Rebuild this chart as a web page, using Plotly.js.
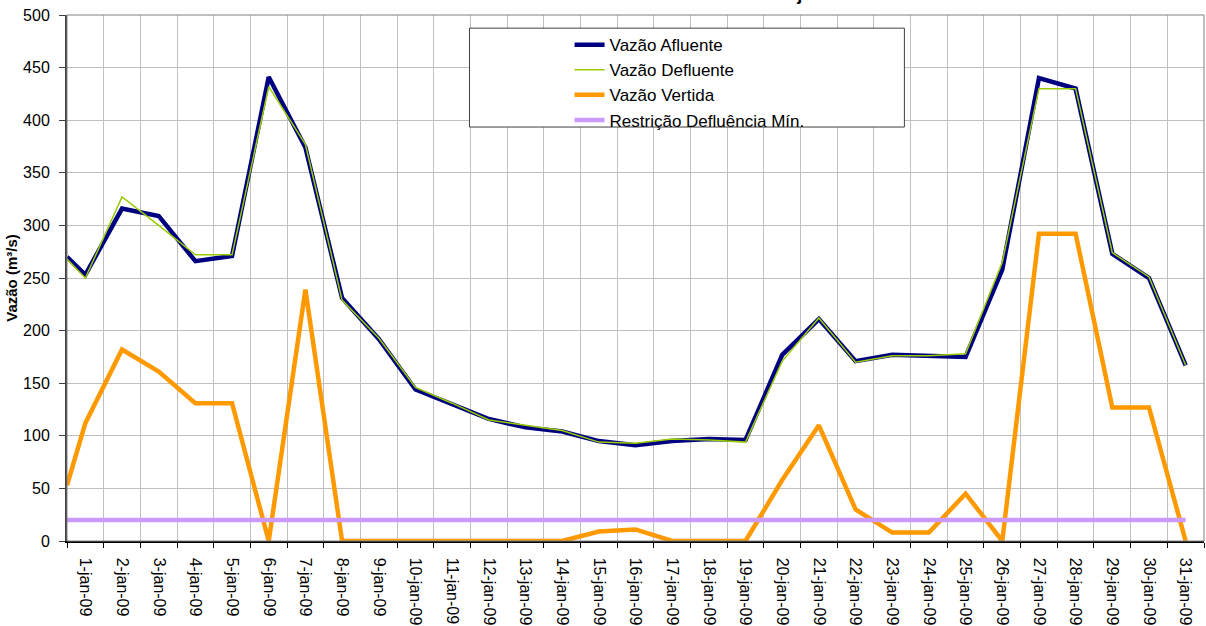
<!DOCTYPE html>
<html>
<head>
<meta charset="utf-8">
<script src="https://cdn.plot.ly/plotly-3.0.1.min.js"></script>
<style>html,body{margin:0;padding:0;background:#fff}#chart{width:1206px;height:626px}</style>
</head>
<body>
<div id="chart"></div>
<script>
// Tick labels (categories)
const dayLabels = ['1-jan-09','2-jan-09','3-jan-09','4-jan-09','5-jan-09','6-jan-09','7-jan-09','8-jan-09','9-jan-09','10-jan-09',
  '11-jan-09','12-jan-09','13-jan-09','14-jan-09','15-jan-09','16-jan-09','17-jan-09','18-jan-09','19-jan-09','20-jan-09',
  '21-jan-09','22-jan-09','23-jan-09','24-jan-09','25-jan-09','26-jan-09','27-jan-09','28-jan-09','29-jan-09','30-jan-09','31-jan-09'];

// First reading of each series sits at the start of the axis, then one value per day
const vazaoAfluente   = [270, 253, 316, 309, 266, 271, 441, 374, 231, 192, 144, 130, 116, 108, 104, 95, 91, 95, 97, 96, 177, 211, 171, 177, 176, 175, 258, 440, 430, 273, 250, 167];
const vazaoDefluente  = [268, 250, 327, 300, 272, 272, 432, 377, 229, 193, 146, 131, 115, 110, 105, 94, 93, 97, 96, 94, 171, 212, 170, 176, 176, 178, 265, 430, 430, 274, 251, 167];
const vazaoVertida    = [53, 112, 182, 161, 131, 131, 0, 239, 0, 0, 0, 0, 0, 0, 0, 9, 11, 0, 0, 0, 58, 110, 30, 8, 8, 45, 0, 292, 292, 127, 127, 0];
const restricaoMin    = [20, 20, 20, 20, 20, 20, 20, 20, 20, 20, 20, 20, 20, 20, 20, 20, 20, 20, 20, 20, 20, 20, 20, 20, 20, 20, 20, 20, 20, 20, 20, 20];

const axisStart = 0.5;
const dayPos = dayLabels.map((_, i) => i + 1);
const xs = [axisStart].concat(dayPos);

const FONT = 'Liberation Sans, Arial, sans-serif';

const traces = [
  {x: xs, y: vazaoAfluente, name: 'Vazão Afluente', type: 'scatter', mode: 'lines', line: {color: '#000080', width: 4.5}},
  {x: xs, y: vazaoDefluente, name: 'Vazão Defluente', type: 'scatter', mode: 'lines', line: {color: '#99cc00', width: 1.5}},
  {x: xs, y: vazaoVertida, name: 'Vazão Vertida', type: 'scatter', mode: 'lines', line: {color: '#ff9900', width: 4.5}},
  {x: xs, y: restricaoMin, name: 'Restrição Defluência Mín.', type: 'scatter', mode: 'lines', line: {color: '#cc99ff', width: 4.5}}
];

const layout = {
  width: 1206, height: 626,
  margin: {l: 67, r: 2, t: 15, b: 85},
  paper_bgcolor: '#ffffff', plot_bgcolor: '#ffffff',
  font: {family: FONT, size: 16, color: '#000000'},
  title: {text: 'Vazões diárias - janeiro/2009', font: {family: FONT, size: 18, weight: 'bold', color: '#000'},
          xref: 'container', x: 0.545, xanchor: 'left', yref: 'container', y: 1, yanchor: 'bottom'},
  showlegend: true,
  legend: {x: 0.442, xanchor: 'left', y: 0.977, yanchor: 'top', bgcolor: 'rgba(0,0,0,0)', borderwidth: 0,
           font: {family: FONT, size: 17, color: '#000'}, tracegroupgap: 0},
  xaxis: {
    range: [0.5, 31.5], tickmode: 'array', tickvals: dayPos, ticktext: dayLabels, tickangle: 90,
    ticks: 'outside', ticklen: 8, tickcolor: 'rgba(0,0,0,0)', ticklabelstandoff: 4,
    showgrid: false, zeroline: false, showline: true, linecolor: '#000000', linewidth: 1.5,
    tickfont: {family: FONT, size: 16, color: '#000'},
    minor: {tickmode: 'linear', tick0: 0.5, dtick: 1, ticks: 'outside', ticklen: 5, tickcolor: '#000', tickwidth: 1,
            showgrid: true, gridcolor: '#c0c0c0', gridwidth: 1},
    fixedrange: true
  },
  yaxis: {
    range: [0, 500], tickmode: 'linear', tick0: 0, dtick: 50,
    ticks: 'outside', ticklen: 6, tickcolor: '#404040', ticklabelstandoff: 6,
    showgrid: true, gridcolor: '#c0c0c0', gridwidth: 1, zeroline: false,
    showline: true, linecolor: '#404040', linewidth: 2,
    tickfont: {family: FONT, size: 16, color: '#000'},
    title: {text: 'Vazão (m³/s)', font: {family: FONT, size: 15, weight: 'bold', color: '#000'}, standoff: 2},
    fixedrange: true
  },
  shapes: [
    {type: 'rect', xref: 'paper', yref: 'paper', x0: 0, x1: 1, y0: 0, y1: 1, line: {color: '#808080', width: 1}, fillcolor: 'rgba(0,0,0,0)', layer: 'above'},
    {type: 'rect', xref: 'paper', yref: 'paper', x0: 0.354, x1: 0.7365, y0: 0.787, y1: 0.975, line: {color: '#404040', width: 1}, fillcolor: '#ffffff', layer: 'above'}
  ]
};

Plotly.newPlot('chart', traces, layout, {displayModeBar: false, staticPlot: true});
</script>
</body>
</html>
